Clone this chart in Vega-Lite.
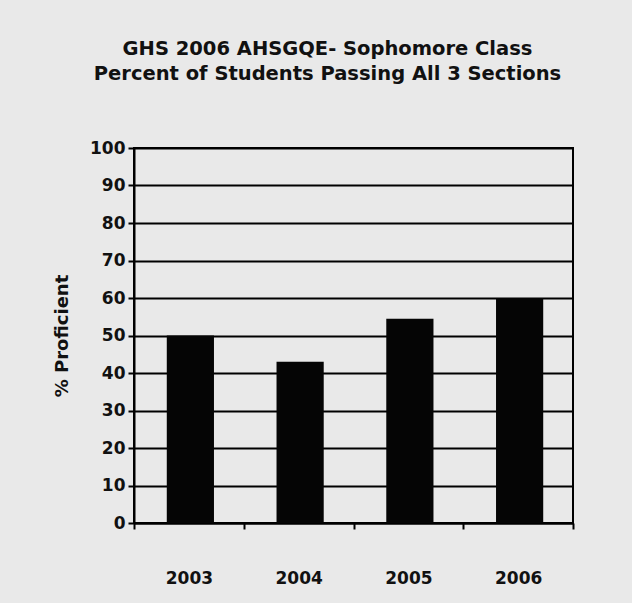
{
  "$schema": "https://vega.github.io/schema/vega-lite/v6.json",
  "autosize": "none",
  "width": 439,
  "height": 375,
  "padding": {"left": 134, "top": 148, "right": 59, "bottom": 80},
  "background": "#e9e9e9",
  "title": {
    "text": ["GHS 2006 AHSGQE- Sophomore Class", "Percent of Students Passing All 3 Sections"],
    "font": "DejaVu Sans",
    "fontSize": 19.5,
    "fontWeight": "bold",
    "lineHeight": 25,
    "color": "#111111",
    "anchor": "middle",
    "dx": -26,
    "offset": 55
  },
  "data": {
    "values": [
      {"year": "2003", "pct": 50},
      {"year": "2004", "pct": 43},
      {"year": "2005", "pct": 54.5},
      {"year": "2006", "pct": 60}
    ]
  },
  "mark": {"type": "bar", "color": "#050505", "width": {"band": 0.43}, "xOffset": 1.5},
  "encoding": {
    "x": {
      "field": "year",
      "type": "ordinal",
      "scale": {"paddingInner": 0, "paddingOuter": 0},
      "axis": {
        "title": null,
        "labelAngle": 0,
        "labelFont": "DejaVu Sans",
        "labelFontSize": 17,
        "labelFontWeight": "bold",
        "labelColor": "#111111",
        "labelPadding": 41,
        "tickBand": "extent",
        "tickColor": "#000000",
        "tickWidth": 2,
        "tickSize": 6,
        "domainColor": "#000000",
        "domainWidth": 2
      }
    },
    "y": {
      "field": "pct",
      "type": "quantitative",
      "scale": {"domain": [0, 100], "nice": false},
      "axis": {
        "title": "% Proficient",
        "titleFont": "DejaVu Sans",
        "titleFontSize": 18,
        "titleFontWeight": "bold",
        "titleColor": "#111111",
        "titlePadding": 18,
        "values": [0, 10, 20, 30, 40, 50, 60, 70, 80, 90, 100],
        "labelFont": "DejaVu Sans",
        "labelFontSize": 17,
        "labelFontWeight": "bold",
        "labelColor": "#111111",
        "labelPadding": 3,
        "tickColor": "#000000",
        "tickWidth": 2,
        "tickSize": 6,
        "domainColor": "#000000",
        "domainWidth": 2,
        "grid": true,
        "gridColor": "#000000",
        "gridWidth": 2,
        "gridOpacity": 1
      }
    }
  },
  "config": {
    "view": {"stroke": "#000000", "strokeWidth": 2, "fill": "#e9e9e9"}
  }
}
